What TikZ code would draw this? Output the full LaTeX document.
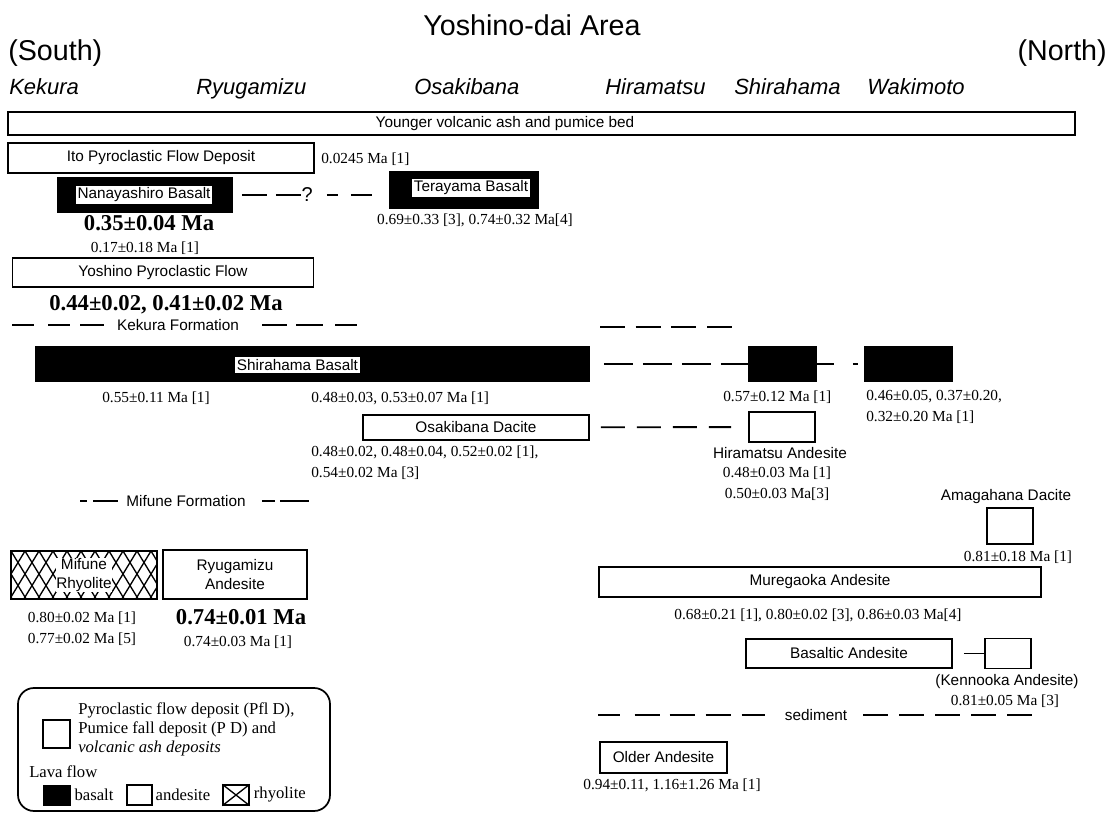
\documentclass[tikz,border=0pt]{standalone}
\usepackage{fontspec}
\setmainfont{Liberation Serif}
\setsansfont{Liberation Sans}
\usetikzlibrary{positioning}

\begin{document}
\begin{tikzpicture}[
    x=0.75pt, y=-0.75pt,
    wh/.style 2 args={minimum width=#1*0.75pt, minimum height=#2*0.75pt},
    unitbox/.style={draw, line width=1.3pt, fill=white, inner sep=0pt, align=center, font=\sffamily\fontsize{11.5}{14.5}\selectfont},
    basaltbox/.style={unitbox, fill=black},
    whitelbl/.style={fill=white, inner sep=1.5pt, align=center, font=\sffamily\fontsize{11.5}{14.5}\selectfont},
    lbl/.style={inner sep=0pt, font=\sffamily\fontsize{11.5}{14}\selectfont},
    age/.style={inner sep=0pt, align=center, font=\fontsize{11.5}{15.5}\selectfont},
    bigage/.style={inner sep=0pt, font=\bfseries\fontsize{17}{19}\selectfont},
    place/.style={inner sep=0pt, anchor=base west, font=\sffamily\itshape\fontsize{16.5}{18}\selectfont},
    side/.style={inner sep=0pt, font=\sffamily\fontsize{21.5}{24}\selectfont},
    legtxt/.style={inner sep=0pt, align=left, font=\fontsize{12.5}{14.25}\selectfont},
    dline/.style={line width=1.4pt},
    hatch/.style={line width=1pt}
]
\useasboundingbox (0,0) rectangle (1115,813);

% heading
\node[side] (title) at (532,25) {Yoshino-dai Area};
\node[side, anchor=west] (south) at (8,53) {(South)};
\node[side, anchor=east] (north) at (1107,53) {(North)};

\node[place] (kekura) at (9,95) {Kekura};
\node[place] (ryugamizu) at (196,95) {Ryugamizu};
\node[place] (osakibana) at (414,95) {Osakibana};
\node[place] (hiramatsu) at (605,95) {Hiramatsu};
\node[place] (shirahama) at (734,95) {Shirahama};
\node[place] (wakimoto) at (867,95) {Wakimoto};

% young deposits
\node[unitbox, wh={1067}{23}] (younger) at (541.5,123.5) {};
\node[lbl] (youngerlbl) at (505,124) {Younger volcanic ash and pumice bed};

\node[unitbox, wh={306}{30}] (ito) at (161,158) {Ito Pyroclastic Flow Deposit};
\node[age, anchor=west] (itoage) at (321,159) {0.0245 Ma [1]};

\node[basaltbox, wh={174}{34}] (nana) at (145,195) {};
\node[whitelbl] (nanalbl) at (144,195) {Nanayashiro Basalt};
\node[bigage] (nanaage) at (149,223) {0.35±0.04 Ma};
\node[age] (nanaage2) at (145,248) {0.17±0.18 Ma [1]};

\node[basaltbox, wh={148}{36}] (tera) at (464,190) {};
\node[whitelbl] (teralbl) at (471,188) {Terayama Basalt};
\node[age] (teraage) at (475,220) {0.69±0.33 [3], 0.74±0.32 Ma[4]};

\draw[dline, shorten <=6.75pt, shorten >=12.75pt,
      dash pattern=on 18.75pt off 6.75pt on 18.75pt off 19.5pt on 8.25pt off 9.75pt on 17.25pt off 20pt]
    (nana) -- node[pos=.475, inner sep=0pt, font=\sffamily\fontsize{15}{16}\selectfont] (query) {?} (nana -| tera.west);

\node[unitbox, wh={301}{29}] (yosh) at (163,272.5) {Yoshino Pyroclastic Flow};
\node[bigage] (yoshage) at (166,305) {0.44±0.02, 0.41±0.02 Ma};

% Kekura Formation
\node[lbl] (kekform) at (178,325) {Kekura Formation};
\coordinate (kekL) at (12,325);
\coordinate (kekR) at (357,325);
\draw[dline, dash pattern=on 16.5pt off 10.5pt on 16.5pt off 7.5pt on 18pt off 20pt] (kekL) -- (kekform.west);
\draw[dline, shorten <=17.25pt, dash pattern=on 18.75pt off 6.75pt on 20.25pt off 9pt on 20.25pt] (kekform.east) -- (kekR);
\coordinate (kekNa) at (600,327);
\coordinate (kekNb) at (732,327);
\draw[dline, dash pattern=on 18.75pt off 8pt] (kekNa) -- (kekNb);

% Shirahama Basalt
\node[basaltbox, wh={553}{34}] (shira) at (312.5,364) {};
\node[whitelbl] (shiralbl) at (297.5,365) {Shirahama Basalt};
\node[basaltbox, wh={67}{35}] (shira2) at (782.5,364) {};
\node[basaltbox, wh={87}{35}] (waki) at (908.5,364) {};
\draw[dline, shorten <=10.5pt, dash pattern=on 21.75pt off 7.5pt] (shira) -- (shira2);
\draw[dline, dash pattern=on 12.75pt off 14.25pt on 3.75pt off 20pt] (shira2) -- (waki);

\node[age] (shiraage) at (156,398) {0.55±0.11 Ma [1]};
\node[age, anchor=west] (shiraage2) at (311,398) {0.48±0.03, 0.53±0.07 Ma [1]};
\node[age, anchor=west] (shira2age) at (723,397) {0.57±0.12 Ma [1]};
\node[age, anchor=west, align=left] (wakiage) at (866,407) {0.46±0.05, 0.37±0.20,\\0.32±0.20 Ma [1]};

% Osakibana Dacite, Hiramatsu Andesite
\node[unitbox, wh={226}{25}] (osadac) at (476,427.5) {Osakibana Dacite};
\node[unitbox, wh={66}{30}] (hira) at (782,427) {};
\draw[dline, shorten <=8.25pt, shorten >=12.75pt, dash pattern=on 18pt off 9pt] (osadac) -- (hira);
\node[age, anchor=west, align=left] (osadacage) at (311,462.5) {0.48±0.02, 0.48±0.04, 0.52±0.02 [1],\\0.54±0.02 Ma [3]};
\node[lbl] (hiralbl) at (780,453) {Hiramatsu Andesite};
\node[age] (hiraage) at (777,483.5) {0.48±0.03 Ma [1]\\0.50±0.03 Ma[3]};

% Mifune Formation
\node[lbl] (mifform) at (186,501) {Mifune Formation};
\coordinate (mifL) at (80,501);
\coordinate (mifR) at (309,501);
\draw[dline, dash pattern=on 5.25pt off 4.5pt on 18.75pt off 20pt] (mifL) -- (mifform.west);
\draw[dline, shorten <=12pt, dash pattern=on 9.75pt off 3.75pt on 21.75pt off 20pt] (mifform.east) -- (mifR);

\node[unitbox, fill=none, wh={146}{48}] (mifrhy) at (84,575) {};
\begin{scope}
  \clip (mifrhy.south west) rectangle (mifrhy.north east);
  \foreach \k in {-3,...,12} {
    \draw[hatch] (11+14*\k,551) -- ++(29.2,48);
    \draw[hatch] (11+14*\k,551) -- ++(-29.2,48);
  }
\end{scope}
\node[whitelbl, inner sep=0.5pt] (mifrhylbl) at (84,575) {Mifune\\Rhyolite};
\node[unitbox, wh={144}{49}] (ryuand) at (235,574.5) {Ryugamizu\\Andesite};

\node[age] (mifage) at (82,628.5) {0.80±0.02 Ma [1]\\0.77±0.02 Ma [5]};
\node[bigage] (ryuage) at (241,617) {0.74±0.01 Ma};
\node[age] (ryuage2) at (238,642) {0.74±0.03 Ma [1]};

% legend
\node[draw, line width=1.3pt, rounded corners=12pt, wh={312}{123}] (legend) at (174,749.5) {};
\node[draw, line width=1pt, wh={27}{28}] (legpfl) at (56.5,734) {};
\node[legtxt, anchor=west] (legpfltxt) at (78,729) {Pyroclastic flow deposit (Pfl D),\\Pumice fall deposit (P D) and\\\textit{volcanic ash deposits}};
\node[legtxt, anchor=west] (leglava) at (29,772) {Lava flow};
\node[draw, fill=black, wh={27}{20}] (legbas) at (56.5,795) {};
\node[legtxt, right=3pt of legbas] (legbastxt) {basalt};
\node[draw, line width=1pt, wh={25}{20}] (legand) at (139.5,795) {};
\node[legtxt, right=2pt of legand] (legandtxt) {andesite};
\node[draw, line width=1pt, wh={26}{20}] (legrhy) at (236,795) {};
\draw[hatch] (legrhy.north west) -- (legrhy.south east) (legrhy.north east) -- (legrhy.south west);
\node[legtxt, right=3pt of legrhy] (legrhytxt) {rhyolite};

% north side, older units
\node[lbl] (amalbl) at (1006,497) {Amagahana Dacite};
\node[unitbox, wh={46}{36}] (ama) at (1010,526) {};
\node[age] (amaage) at (1018,557) {0.81±0.18 Ma [1]};

\node[unitbox, wh={442}{30}] (mure) at (820,582) {Muregaoka Andesite};
\node[age] (mureage) at (818,615) {0.68±0.21 [1], 0.80±0.02 [3], 0.86±0.03 Ma[4]};

\node[unitbox, wh={206}{29}] (basand) at (849,653.5) {Basaltic Andesite};
\node[unitbox, wh={46}{30}] (kenn) at (1008,653.5) {};
\draw[line width=1.3pt, shorten <=8.25pt] (basand) -- (kenn);
\node[lbl] (kennlbl) at (1007,682) {(Kennooka Andesite)};
\node[age] (kennage) at (1005,701) {0.81±0.05 Ma [3]};

% sediment
\node[lbl] (sed) at (816,715) {sediment};
\coordinate (sedL) at (598,715);
\coordinate (sedR) at (1033,715);
\draw[dline, dash pattern=on 16.5pt off 11pt on 18.75pt off 7.5pt on 18.75pt off 8.25pt on 18.75pt off 8.25pt on 17.25pt off 20pt] (sedL) -- (sed.west);
\draw[dline, shorten <=12pt, dash pattern=on 18.75pt off 8.25pt] (sed.east) -- (sedR);

\node[unitbox, wh={127}{31}] (older) at (663.5,757.5) {Older Andesite};
\node[age] (olderage) at (672,785) {0.94±0.11, 1.16±1.26 Ma [1]};

\end{tikzpicture}
\end{document}
